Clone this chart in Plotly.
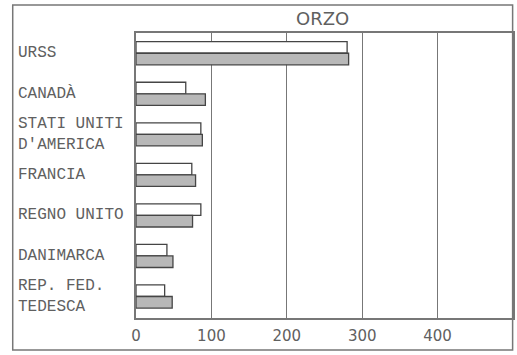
import plotly.graph_objects as go

categories = ["URSS", "CANADÀ", "STATI UNITI<br>D'AMERICA", "FRANCIA",
              "REGNO UNITO", "DANIMARCA", "REP. FED.<br>TEDESCA"]
keys = ["URSS", "CANADA", "USA", "FRANCIA", "REGNO UNITO", "DANIMARCA", "RFT"]
series_white = [280, 66, 86, 74, 86, 41, 38]
series_gray = [282, 92, 88, 79, 75, 49, 48]
tick_vals = [0, 100, 200, 300, 400]
title_text = "ORZO"

TEXT = "#606060"
LINE = "#777777"
EDGE = "#454545"

fig = go.Figure()
fig.add_trace(go.Bar(y=keys, x=series_white, orientation="h",
                     marker=dict(color="#ffffff", line=dict(color=EDGE, width=1.3)),
                     showlegend=False))
fig.add_trace(go.Bar(y=keys, x=series_gray, orientation="h",
                     marker=dict(color="#b8b8b8", line=dict(color=EDGE, width=1.3)),
                     showlegend=False))

for k, lab in zip(keys, categories):
    fig.add_annotation(x=-0.318, xref="paper", y=k, yref="y", text=lab,
                       xanchor="left", yanchor="middle", align="left", showarrow=False,
                       font=dict(family="Liberation Mono", size=16, color=TEXT))

fig.add_annotation(x=0.495, xref="paper", y=1.052, yref="paper", text=title_text,
                   xanchor="center", yanchor="middle", showarrow=False,
                   font=dict(family="DejaVu Sans", size=18, color=TEXT))

fig.add_shape(type="rect", xref="paper", yref="paper", x0=-0.327, x1=0.999,
              y0=-0.112, y1=1.098, line=dict(color=LINE, width=1.5), layer="above")

fig.update_layout(
    width=517, height=355,
    margin=dict(l=136, r=2, t=33, b=37),
    paper_bgcolor="white", plot_bgcolor="white",
    barmode="group", bargap=0.43, bargroupgap=0,
    xaxis=dict(range=[0, 500], tickvals=tick_vals, showgrid=True, gridcolor=LINE,
               gridwidth=1.4, zeroline=False, showline=True, mirror=True,
               linecolor=LINE, linewidth=1.5, ticks="", ticklabelstandoff=3,
               tickfont=dict(family="DejaVu Sans", size=15, color=TEXT)),
    yaxis=dict(autorange="reversed", showticklabels=False, showgrid=False,
               showline=True, mirror=True, linecolor=LINE, linewidth=1.5, ticks=""),
)

fig.write_html("out.html", config={"displayModeBar": False},
               post_script="document.body.style.margin='0';document.body.style.overflow='hidden';")
